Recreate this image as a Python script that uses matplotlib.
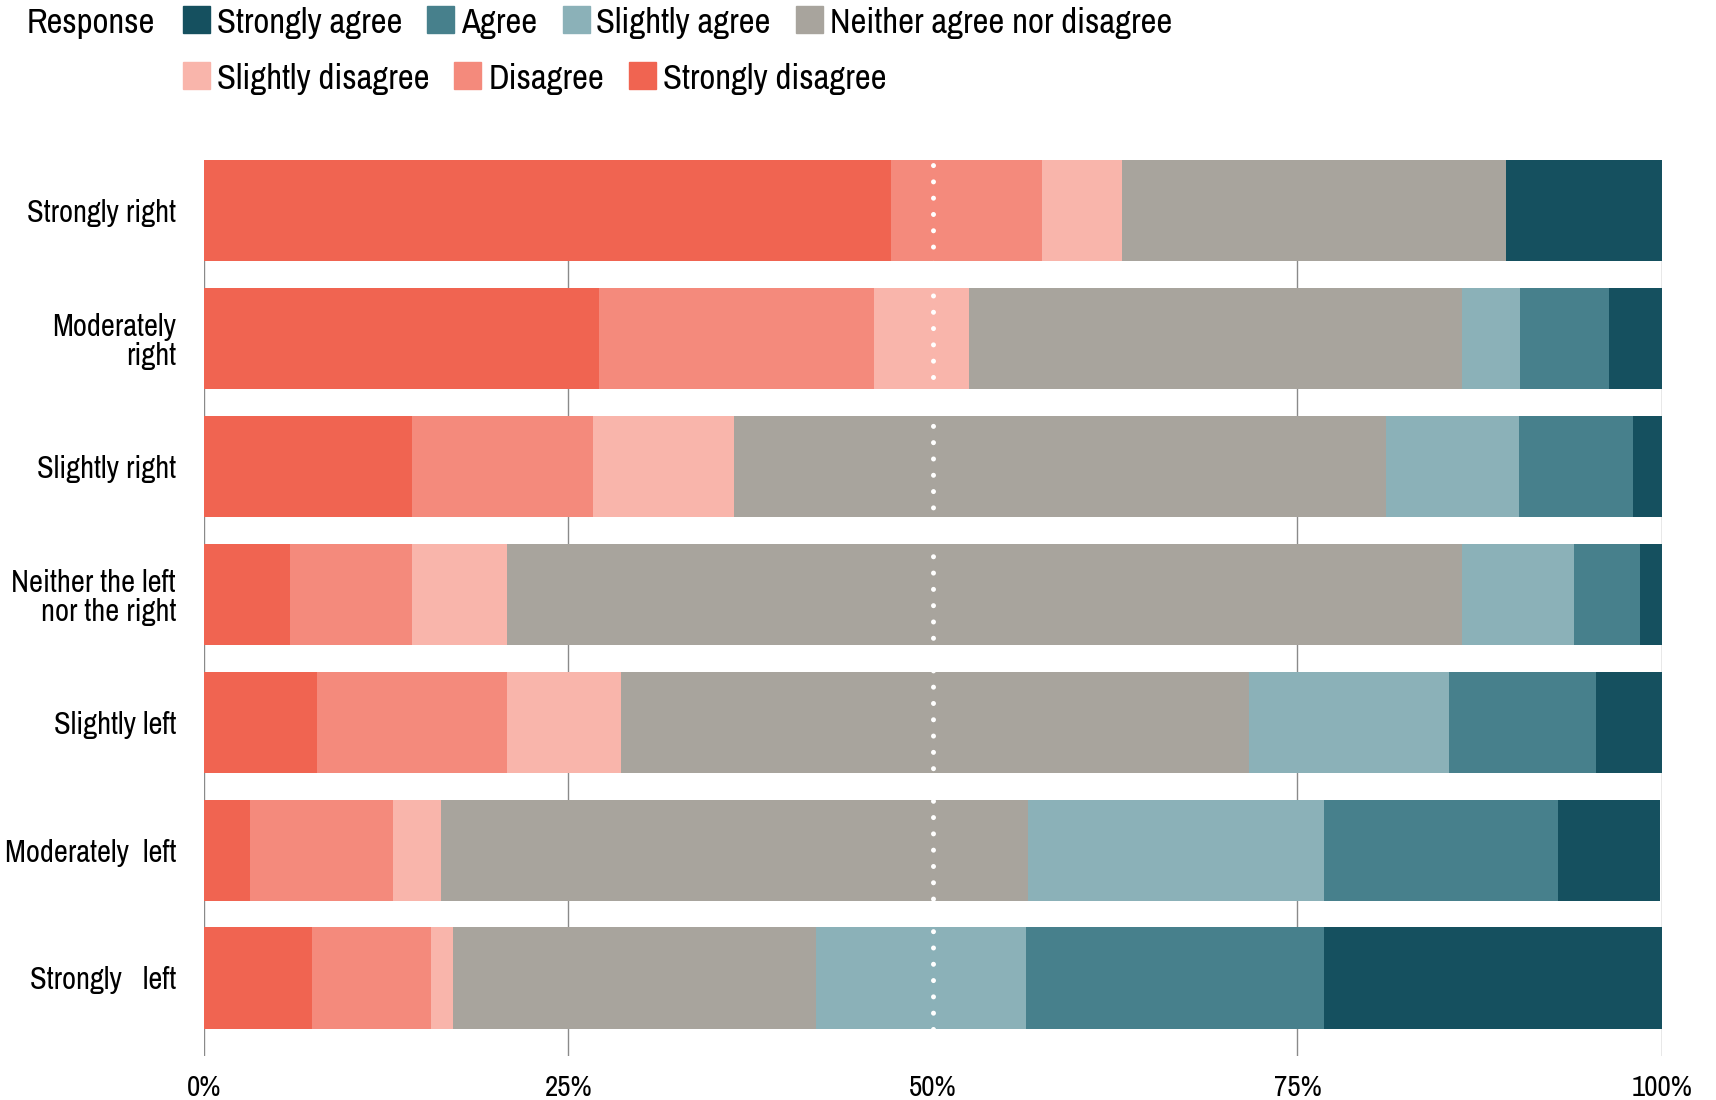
import numpy as np
import matplotlib.pyplot as plt
from matplotlib import font_manager
from matplotlib.patches import Rectangle

# prefer a narrow face if one is installed, like the reference's condensed type
narrow = sorted({f.name for f in font_manager.fontManager.ttflist
                 if "narrow" in f.name.lower() or "condensed" in f.name.lower()})
plt.rcParams['font.family'] = narrow[:1] + ['Roboto', 'DejaVu Sans']
condensed = bool(narrow)

# categories, top to bottom
groups = ["Strongly right", "Moderately\nright", "Slightly right",
          "Neither the left\nnor the right", "Slightly left",
          "Moderately  left", "Strongly   left"]

# shares in percent
strongly_disagree = [47.1, 27.1, 14.3, 5.9, 7.8, 3.2, 7.4]
disagree = [10.4, 18.9, 12.4, 8.4, 13.0, 9.8, 8.2]
slightly_disagree = [5.5, 6.5, 9.7, 6.5, 7.8, 3.3, 1.5]
neither = [26.3, 33.8, 44.7, 65.5, 43.1, 40.2, 24.9]
slightly_agree = [0.0, 4.0, 9.1, 7.7, 13.7, 20.3, 14.4]
agree = [0.0, 6.1, 7.8, 4.5, 10.1, 16.1, 20.4]
strongly_agree = [10.7, 3.8, 2.0, 1.6, 4.6, 7.0, 23.3]

# stacking order left to right
series = [
    ("Strongly disagree", strongly_disagree, "#f06451"),
    ("Disagree", disagree, "#f48a7c"),
    ("Slightly disagree", slightly_disagree, "#f9b5ab"),
    ("Neither agree nor disagree", neither, "#a8a49d"),
    ("Slightly agree", slightly_agree, "#8bb1b8"),
    ("Agree", agree, "#47808c"),
    ("Strongly agree", strongly_agree, "#15505f"),
]
legend_rows = [["Strongly agree", "Agree", "Slightly agree", "Neither agree nor disagree"],
               ["Slightly disagree", "Disagree", "Strongly disagree"]]
xticks = [0, 25, 50, 75, 100]
xticklabels = ["0%", "25%", "50%", "75%", "100%"]

fs_axis = 22 if condensed else 17
fs_x = 21 if condensed else 16.5
fs_leg = 25 if condensed else 20

fig = plt.figure(figsize=(17.16, 11), dpi=100)
ax = fig.add_axes([0.1187, 0.04, 0.8498, 0.8145])

y = np.arange(len(groups))[::-1]
left = np.zeros(len(groups))
for name, vals, col in series:
    vals = np.array(vals)
    ax.barh(y, vals, left=left, height=0.79, color=col, zorder=2)
    left += vals

# gray grid lines, none at 50%
for g in [0, 25, 75, 100]:
    ax.axvline(g, color="#8a8a8a", lw=1, zorder=1)
# white dotted midline
ax.plot([50, 50], [-0.395, 6.395], color="white", lw=3.6,
        linestyle=(0, (0.01, 3.25)), dash_capstyle="round", zorder=3)

ax.set_xlim(0, 100)
ax.set_ylim(-0.61, 6.395)
ax.set_yticks(y)
ax.set_yticklabels(groups, fontsize=fs_axis, linespacing=1.05)
ax.set_xticks(xticks)
ax.set_xticklabels(xticklabels, fontsize=fs_x)
ax.tick_params(axis="both", length=0)
ax.tick_params(axis="y", pad=20)
ax.tick_params(axis="x", pad=13)
for s in ax.spines.values():
    s.set_visible(False)

# legend built by hand
colors = {name: col for name, _, col in series}
fig.canvas.draw()
renderer = fig.canvas.get_renderer()
W, H = fig.bbox.width, fig.bbox.height
sq = 27
row_top = [6, 62]
fig.text(27 / W, 1 - (row_top[0] + sq) / H, "Response", fontsize=fs_leg,
         va="baseline", ha="left")
for row, yt in zip(legend_rows, row_top):
    x = 183
    for name in row:
        fig.patches.append(Rectangle((x / W, 1 - (yt + sq) / H), sq / W, sq / H,
                                     transform=fig.transFigure, color=colors[name]))
        t = fig.text((x + sq + 7) / W, 1 - (yt + sq) / H, name, fontsize=fs_leg,
                     va="baseline", ha="left")
        bb = t.get_window_extent(renderer)
        x = bb.x1 + 25

fig.savefig("out.png", dpi=100)
